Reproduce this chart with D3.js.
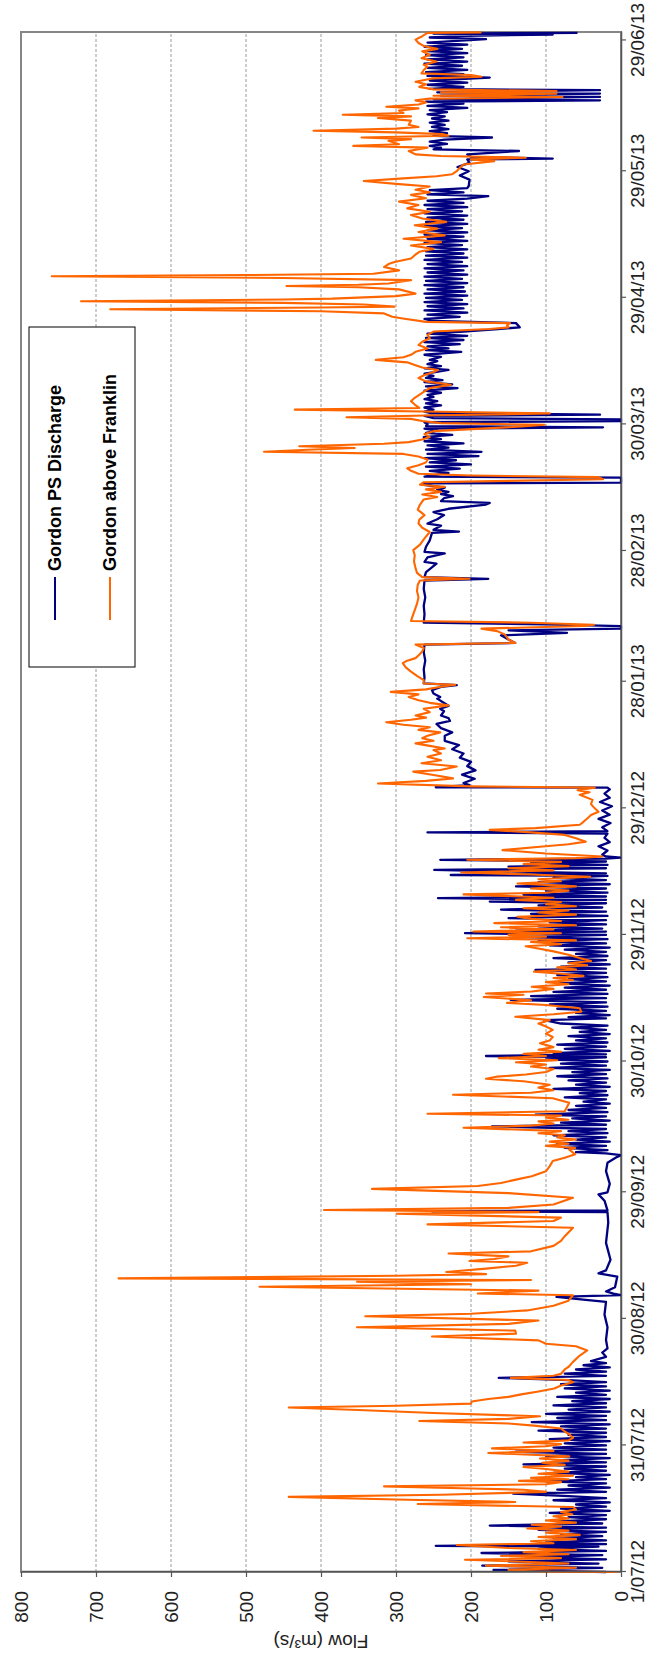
<!DOCTYPE html>
<html>
<head>
<meta charset="utf-8">
<script src="https://cdn.jsdelivr.net/npm/d3@7"></script>
<style>
  body { margin: 0; background: #fff; }
  svg { display: block; font-family: "Liberation Sans", Arial, sans-serif; }
</style>
</head>
<body>
<div id="chart"></div>
<script>
const seriesNames = ['Gordon PS Discharge', 'Gordon above Franklin'];
const seriesColors = ['#000080', '#ff6600'];
const flowTicks = [0, 100, 200, 300, 400, 500, 600, 700, 800];
const dateTicks = ['2012-07-01', '2012-07-31', '2012-08-30', '2012-09-29', '2012-10-30', '2012-11-29',
    '2012-12-29', '2013-01-28', '2013-02-28', '2013-03-30', '2013-04-29', '2013-05-29', '2013-06-29'];
const dateDomain = ['2012-07-01', '2013-07-01'];

// [days since 1/07/12, flow m3/s]
const psDischarge = [
[0,20],[0.5,170],[1,25],[1.5,185],[2,30],[2.5,150],[3,20],[3.5,120],[4,25],[4.5,186],[5,20],[5.5,110],[6,30],[6.2,247],[6.6,20],[7,100],[7.5,20],[8,90],[8.5,25],[9,80],[9.5,20],[10,110],[10.5,20],[11,175],[11.5,25],[12,85],[12.5,20],[13,70],[13.5,20],[14,95],[14.5,15],[15,80],[15.5,20],[16,60],[16.5,15],[17,90],[17.5,20],[18,70],[18.6,144],[19,20],[19.5,85],[20,15],[20.5,70],[21,20],[21.5,100],[22,20],[22.5,60],[23,15],[23.5,90],[24,20],[24.5,75],[25,20],[25.5,130],[26,20],[26.5,80],[27,15],[27.5,100],[28,20],[28.5,140],[29,20],[29.5,90],[30,20],[30.5,75],[31,15],[31.5,95],[32,20],[32.5,70],[33,20],[33.5,110],[34,20],[34.5,80],[35,15],[35.5,119],[36,20],[36.5,85],[37,20],[37.5,100],[38,15],[38.5,70],[39,20],[39.5,90],[40,20],[40.5,65],[41,15],[41.5,85],[42,20],[42.5,60],[43,15],[43.5,75],[44,20],[44.5,80],[45,20],[45.5,70],[46,163],[46.5,20],[47,75],[47.5,20],[48,60],[48.5,15],[49,50],[49.5,20],[50,40],[51,20],[52,25],[53,18],[55,20],[58,18],[61,22],[64,20],[64.5,47],[65.2,86],[65.6,0],[66,10],[66.5,20],[67.5,8],[70,5],[70.8,30],[71.5,20],[74,14],[78,20],[82.8,17],[85.3,18],[85.5,252],[85.7,18],[88,22],[89.5,30],[90,18],[92,15],[95,20],[97,18],[98.4,5],[98.8,0],[99.2,20],
[99.5,60],[100,18],[100.5,75],[101,20],[101.5,85],[102,15],[102.5,60],[103,20],[103.5,90],[104,18],[104.5,70],[105,20],[105.6,172],[106,20],[106.5,80],[107,15],[107.5,65],[108,20],[108.4,114],[109,18],[109.5,70],[110,20],[110.5,60],[111,15],[111.5,50],[112,20],[112.5,75],[113,18],[113.5,55],[114,20],[114.5,90],[115,15],[115.5,60],[116,20],[116.5,70],[117,18],[117.5,85],[118,20],[118.5,65],[119,15],[119.5,95],[120,20],[120.5,80],[121,18],[121.5,100],[122,20],[122.3,180],[122.7,20],[123,90],[123.5,15],[124,75],[124.5,20],[125,85],[125.5,18],[126,60],[126.5,20],[127,70],[127.5,15],[128,55],[128.5,20],[129,65],[129.5,18],[130,80],[130.8,102],[131.2,20],[131.5,70],[132,15],[132.5,60],[133,20],[133.5,85],[134,18],[134.5,95],[135,20],[135.6,147],[136,20],[136.5,120],[137,18],[137.5,90],[138,20],[138.5,75],[139,15],[139.5,85],[140,20],
[140.5,70],[141,18],[141.5,85],[142,20],[142.7,114],[143,20],[143.5,80],[144,15],[144.5,70],[145,20],[145.5,90],[146,18],[146.5,60],[147,20],[147.5,75],[148,15],[148.5,95],[149,20],[149.5,110],[150,18],[150.5,130],[151,20],[151.4,208],[151.8,20],[152,140],[152.5,25],[153,110],[153.5,20],[154,95],[154.5,20],[155,150],[155.5,18],[156,120],[156.5,20],[157,160],[157.5,25],[158,110],[158.5,20],[158.9,175],[159.3,20],[159.7,244],[160.1,20],[160.5,130],[161,18],[161.5,100],[162,20],[162.5,140],[163,15],[163.5,110],[164,20],[164.5,90],[165,18],[165.2,227],[165.6,20],[166,140],[166.4,249],[166.8,20],[167.2,150],[167.6,18],[168,120],[168.4,20],[168.8,241],[169.1,20],[169.3,0],[169.6,20],[170,25],[171,18],[172,30],[173,15],[174,22],[175,18],[175.3,258],[175.6,18],[176.5,25],[177.5,14],[178.5,30],[179.5,15],[180.5,25],[181.5,12],[182.5,28],[183.5,15],[184.5,22],[185.5,15],[185.9,18],[186,247],[186.5,202],[187,210],[188,195],[189,212],[190,194],[191,205],[192,200],[193,215],[194,210],[195,225],[196,216],
[197,235],[198.2,235],[199,225],[200,240],[201,246],[201.7,228],[202.4,230],[203,240],[204,236],[204.6,241],[205.3,230],[206.2,238],[207,245],[207.4,241],[208.2,250],[209,252],[209.8,240],[210.2,219],[210.6,263],[212,262],[214,263],[216,261],[218,263],[219.8,262],[220.2,141],[221,150],[222,160],[222.6,72],[223.2,150],[223.6,0],[224.2,0],[224.6,100],[225,263],[227,262],[229,263],[231,261],[233,263],[235,262],[235.4,177],[235.8,262],[237,260],[239,246],[239.4,262],[240.5,258],[241.4,235],[241.8,262],[243,260],[244.5,255],[246.3,252],[246.6,216],[247,250],[248,240],[248.5,258],[249.5,245],[250.5,236],[251.2,250],[252,230],[253,180],[253.4,175],[253.8,240],
[254.5,236],[255,224],[255.5,240],[256,230],[256.5,245],[257,235],[257.7,265],[258,263],[258.2,0],[259.4,0],[259.6,262],[260,250],[260.5,230],[261,255],[261.5,215],[262,260],[262.5,200],[263,255],[263.5,220],[264,262],[264.5,190],[265,258],[265.5,186],[266,260],[266.5,230],[267,258],[267.5,210],[268,262],[268.5,240],[269,263],[269.5,225],[270,260],[270.5,245],[271,262],[271.3,24],[271.6,260],[272,258],[272.5,262],[272.8,0],[273.2,0],[273.5,250],[274,262],[274.3,28],[274.7,255],[275,262],[275.5,250],[276,262],[276.5,240],[277,260],[277.5,245],[278,262],[278.5,250],[279,258],[279.5,240],[280,262],[280.6,218],[281,260],[281.5,225],[282,262],[282.5,238],[283,260],[283.5,250],[284,262],[284.9,230],[285.3,262],[285.8,240],[286.3,258],[287,245],[287.3,255],[288,240],[288.5,262],[289.2,213],[289.6,260],[290,230],[290.5,258],[291,215],[291.5,262],[292,210],[292.5,260],[293,205],[293.5,258],[294,210],[294.6,164],[295,135],[296,140],[296.5,250],[297,262],[297.5,215],[298,258],[298.5,205],[299,262],[299.5,210],[300,258],[300.5,205],[301,262],[301.5,212],[302,260],[302.5,205],[303,262],[303.5,208],[304,258],[304.5,210],[305,262],[305.5,205],[306,260],[306.5,212],[307,262],[307.5,205],[308,258],[308.5,210],[309,262],[309.5,205],[310,258],[310.5,212],[311,262],[311.5,205],[312,260],[312.5,210],
[313,260],[313.5,205],[314,258],[314.5,212],[315,262],[315.5,205],[316,258],[316.5,210],[317,262],[317.5,205],[318,258],[318.5,212],[319,262],[319.5,205],[320,260],[320.5,210],[321,258],[321.5,205],[322,262],[322.5,212],[323,258],[323.5,205],[324,262],[324.5,210],[325,258],[325.5,205],[326.1,177],[326.5,258],[327,210],[327.5,255],[328,205],[328.5,203],[330,202],[331,215],[332,203],[333,218],[334,202],[334.8,205],[335,91],[335.4,200],[336,205],[336.8,136],[337.2,250],[337.6,240],[338,255],[338.5,232],[339,255],[339.5,235],[340,172],[340.4,250],[341,232],[341.5,255],[342,230],[342.5,252],[343,235],[343.5,255],[344,230],[344.5,252],[345,235],[345.5,258],[346,232],[346.5,255],[347,205],[347.5,258],[348,210],[348.5,260],[348.8,28],[349.1,250],[349.6,28],[349.9,240],[350.4,28],[350.7,245],[351.2,28],[351.5,255],[352,210],[352.5,258],[353,205],[353.5,255],[354.2,175],[354.6,258],[355,210],[355.5,260],[356,205],[356.5,258],[357,212],[357.5,262],[358,205],[358.5,258],[359,210],[359.5,260],[360,205],[360.5,258],[361,212],[361.5,262],[362,205],[362.5,258],[363.3,180],[363.7,255],[364.1,205],[364.4,91],[364.6,250],[364.8,58]
];

const aboveFranklin = [
[0,5],[0.1,95],[0.5,150],[1,60],[1.5,180],[2,70],[2.5,140],[2.9,208],[3.3,80],[3.8,160],[4.2,70],[4.7,130],[5.2,60],[5.7,150],[6.4,219],[6.8,90],[7.3,120],[7.8,60],[8.3,110],[8.8,55],[9.3,100],[9.8,70],[10.3,125],[10.8,80],[11.2,119],[11.7,60],[12.2,100],[12.7,70],[13.2,90],[13.7,65],[14.2,80],[14.8,60],[15.4,64],[16.1,271],[16.6,141],[17.2,300],[17.8,443],[18.3,240],[19,100],[19.5,130],[19.8,199],[20.3,316],[20.8,100],[21.3,80],[21.6,136],[22,70],[22.3,120],[22.8,64],[23.3,110],[23.8,70],[24.4,100],[24.9,130],[25.4,75],[25.9,105],[26.4,70],[26.9,108],[27.4,69],[27.8,120],[28.2,177],[28.7,90],[29.3,172],[29.8,100],[30.3,80],[30.7,130],[31.2,70],[31.8,64],[32.5,68],[33.3,75],[34,80],[34.7,116],[35.2,150],[35.8,269],[36.3,150],[36.9,108],[37.7,250],[38.4,350],[39,443],[39.4,300],[39.9,200],[40.4,199],[41,177],[41.5,150],[42.1,133],[42.8,110],[43.5,89],[44.2,80],[45,64],
[45.5,70],[46,147],[46.5,90],[47,80],[48,75],[48.6,70],[49.8,64],[51.3,55],[52.5,45],[53.5,60],[54.1,100],[54.9,110],[55.8,252],[56.5,140],[57.2,141],[58,352],[58.8,150],[59.6,110],[60.6,341],[61.2,200],[62,125],[63.1,90],[64.3,70],[65.6,64],[66,191],[66.7,110],[67.6,482],[68.2,200],[68.8,352],[69.2,120],[69.6,670],[70.2,300],[70.6,180],[71.1,233],[71.9,180],[72.6,140],[73.3,125],[73.7,202],[74.2,169],[74.8,150],[75.5,230],[76,120],[77.3,90],[78.5,80],[79.6,75],[81.6,64],[82.4,258],[83.2,90],[84,80],[84.9,299],[85.3,110],[85.8,396],[86.3,150],[87.1,90],[88.7,64],[89.8,150],[90.8,332],[91.5,191],
[92.2,160],[93,140],[93.8,119],[95,100],[96.2,95],[97.4,91],[98.2,75],[99,61],[100.1,69],[100.5,61],[101,100],[101.5,70],[102,95],[102.5,60],[103,85],[103.5,75],[104,110],[104.5,80],[105.3,210],[105.8,120],[106.3,90],[106.8,110],[107.2,70],[107.7,100],[108.2,80],[108.6,258],[109.2,75],[110.2,72],[111.2,69],[112.3,91],[113.1,224],[113.6,120],[114.2,90],[114.8,110],[115.5,95],[116.3,130],[116.9,180],[117.4,166],[117.9,127],[118.5,100],[119.2,90],[119.8,120],[120.3,100],[120.8,140],[121.3,85],[121.8,163],[122.3,100],[122.8,130],[123.3,80],[123.8,110],[124.4,90],[125.3,108],[126,95],[126.8,91],[127.6,100],[128.5,91],[129.3,100],[130,110],[130.8,95],[131.6,141],[132.2,90],[132.8,53],[133.6,55],[134.4,100],[134.9,152],[135.5,120],[136.3,183],[136.8,130],[137.1,180],[137.6,119],[138.2,90],[138.7,119],[139.3,70],[139.8,100],[140.3,64],
[140.8,90],[141.3,50],[141.8,80],[142.3,116],[142.8,60],[143.3,85],[143.8,45],[144.3,70],[144.8,40],[145.5,55],[146.3,70],[147.1,90],[147.9,114],[148.3,127],[148.8,80],[149.3,120],[149.7,60],[150.2,205],[150.6,100],[151,150],[151.4,80],[151.8,197],[152.3,90],[152.8,160],[153.3,60],[153.8,169],[154.3,80],[154.8,120],[155.3,138],[155.8,60],[156.3,110],[156.8,70],[157.3,130],[157.8,60],[158.3,100],[158.8,80],[159.3,140],[159.8,90],[160.6,210],[161,100],[161.5,70],[162,120],[162.5,60],[163.2,138],[163.7,80],[164.2,110],[164.8,41],[165.3,120],[165.8,213],[166.3,90],[166.8,150],[167.3,70],[167.8,130],[168.3,80],[168.8,205],[169.2,60],[169.6,25],[170.3,100],[171.1,158],[171.9,108],[172.5,70],[173.1,47],[173.9,60],[174.7,75],[175.3,120],[175.9,175],[176.3,114],[177.1,55],[177.8,50],[178.6,45],[179.4,40],[180.2,30],[181,35],[182,40],[183,38],[184.2,55],[184.8,42],[185.3,58],[185.9,35],[186.2,200],[186.9,324],[187.5,260],[188.1,224],[188.9,250],[189.7,277],[190.1,241],[190.9,219],[191.7,266],[192.4,240],[193.2,258],[194,240],[194.8,250],[195.2,235],[195.8,255],[196.4,274],
[197,250],[197.6,265],[198.2,258],[199,241],[199.6,270],[200.2,255],[200.8,290],[201.4,313],[202,280],[202.5,260],[203,274],[203.8,255],[204.6,263],[205.4,230],[206,255],[206.6,270],[207.4,283],[208,270],[208.6,307],[209.2,260],[209.8,240],[210.3,221],[210.6,263],[211.4,263],[212.4,272],[213.4,280],[214.4,287],[215.4,291],[216,285],[216.6,274],[217.4,269],[218.2,265],[219,263],[219.8,274],[220.2,141],[221,150],[222.2,155],[223,165],[223.6,186],[224.2,50],[224.5,36],[225,120],[225.4,280],[226.5,278],[228,275],[229.5,272],[231,270],[232.5,272],[234,271],[235,268],[235.4,202],[235.8,265],[236.8,272],[238,274],[239.5,276],[241,275],[242.2,277],[243.5,268],[245,262],[246.5,255],[247.5,265],[248.5,270],[249.4,269],[250.5,262],[251.8,271],[253,268],[254.2,263],
[254.8,245],[255.4,265],[256,240],[256.6,260],[257.2,235],[257.7,268],[258.3,263],[258.6,150],[259,24],[259.5,30],[259.9,200],[260.3,270],[261,280],[261.6,285],[262.3,270],[263,260],[263.7,258],[264.4,270],[265,290],[265.5,476],[266,418],[266.4,355],[266.8,429],[267.4,316],[267.8,283],[268.4,265],[269,255],[269.7,262],[270.4,250],[271,186],[271.5,132],[271.9,102],[272.3,240],[272.8,265],[273.3,280],[273.7,366],[274.1,260],[274.6,95],[275,240],[275.5,435],[275.9,269],[276.7,275],[277.5,280],[278.3,275],[279,269],[279.8,262],[280.6,255],[281.4,227],[282.2,260],[283,270],[283.7,262],[284.4,250],[284.9,244],[285.5,265],[286.1,275],[286.7,285],[287.3,327],[287.9,290],[288.5,280],[289.2,274],[290,258],[290.8,270],[291.6,265],[292.4,255],[293.2,258],[294,250],[294.6,175],[295,150],[295.5,152],[296,148],[296.3,260],[297.1,291],[297.5,305],[298.3,316],[298.8,400],[299.3,681],[299.7,400],[299.9,302],[300.4,343],[300.8,450],[301.2,720],[301.6,450],[301.8,385],[302.4,300],[303,274],[304,296],[304.5,350],[304.8,446],[305.1,350],[305.4,310],[306.2,280],[306.7,450],[307.1,759],[307.4,500],[307.7,330],[308.5,296],[309.3,316],[310,310],[310.5,302],[311.3,280],[312.1,275],[312.9,269],
[313.6,250],[314.4,280],[315.2,240],[316,290],[316.8,235],[317.6,270],[318.4,245],[319.2,275],[320,233],[320.8,265],[321.6,280],[322.4,255],[323.2,285],[324,270],[324.8,296],[325.6,260],[326.4,280],[327,255],[327.6,274],[328.4,255],[329,300],[329.7,343],[330.3,290],[330.8,246],[331.3,225],[332,219],[332.8,215],[333.6,210],[334.4,169],[334.8,200],[335.2,127],[335.6,240],[336,274],[336.8,283],[337.6,258],[338,357],[338.4,296],[339.2,310],[339.6,280],[340,346],[340.4,230],[340.8,238],[341.2,300],[341.6,410],[342.1,300],[342.5,270],[343,283],[344,280],[344.6,324],[345,280],[345.4,371],[345.8,290],[346.4,296],[346.9,270],[347.3,313],[347.8,270],[348.3,260],[348.8,274],[349.2,255],[349.6,78],[349.9,250],[350.4,86],[350.7,240],[351,86],[351.4,250],[352,269],[352.6,260],[353.2,274],[354,252],[354.4,186],[354.8,200],[355.2,266],[356,263],[356.8,258],[357.2,263],[358,246],[358.8,266],[359.6,255],[360.4,265],[361,245],[361.6,262],[362.4,270],[363.2,274],[364,265],[364.8,258],[364.9,186]
];

const width = 650;
const height = 1657;
// the chart is drawn landscape (W x H) and then turned a quarter turn anticlockwise
const W = height;
const H = width;
const margin = { top: 21, right: 32, bottom: 29, left: 85 };
const plotW = W - margin.left - margin.right;
const plotH = H - margin.top - margin.bottom;

const parseDate = d3.utcParse('%Y-%m-%d');
const start = parseDate(dateDomain[0]);
const toDate = day => new Date(start.getTime() + day * 864e5);

const x = d3.scaleUtc()
    .domain(dateDomain.map(parseDate))
    .range([margin.left, margin.left + plotW]);
const y = d3.scaleLinear()
    .domain([0, 800])
    .range([margin.top + plotH, margin.top]);

const svg = d3.select('#chart')
    .append('svg')
    .attr('width', width)
    .attr('height', height);

const chart = svg.append('g')
    .attr('transform', `translate(0,${height}) rotate(-90)`);

// grid
chart.append('g')
    .classed('grid', true)
    .selectAll('line')
    .data(flowTicks.filter(t => t > 0 && t < 800))
    .enter()
    .append('line')
    .attr('x1', margin.left)
    .attr('x2', margin.left + plotW)
    .attr('y1', d => y(d))
    .attr('y2', d => y(d))
    .style('stroke', '#9a9a9a')
    .style('stroke-width', 1)
    .style('stroke-dasharray', '3,2');

chart.append('rect')
    .attr('x', margin.left)
    .attr('y', margin.top)
    .attr('width', plotW)
    .attr('height', plotH)
    .style('fill', 'none')
    .style('stroke', '#868686')
    .style('stroke-width', 2);

const line = d3.line()
    .x(d => x(toDate(d[0])))
    .y(d => y(d[1]));

[psDischarge, aboveFranklin].forEach((series, i) => {
    chart.append('path')
        .datum(series)
        .attr('d', line)
        .style('fill', 'none')
        .style('stroke', seriesColors[i])
        .style('stroke-width', i === 0 ? 2.3 : 2.1)
        .style('stroke-linejoin', 'round');
});

// axes
const xAxis = d3.axisBottom(x)
    .tickValues(dateTicks.map(parseDate))
    .tickFormat(d3.utcFormat('%-d/%m/%y'))
    .tickSize(5)
    .tickSizeOuter(0)
    .tickPadding(5);
const yAxis = d3.axisLeft(y)
    .tickValues(flowTicks)
    .tickSize(5)
    .tickSizeOuter(0)
    .tickPadding(14);

const xAxisGroup = chart.append('g')
    .attr('transform', `translate(0,${margin.top + plotH})`)
    .call(xAxis);
const yAxisGroup = chart.append('g')
    .attr('transform', `translate(${margin.left},0)`)
    .call(yAxis);

[xAxisGroup, yAxisGroup].forEach(g => {
    g.attr('font-family', null).attr('font-size', null);
    g.select('.domain').style('stroke', '#555').style('stroke-width', 1.5);
    g.selectAll('.tick line').style('stroke', '#555').style('stroke-width', 1.2);
    g.selectAll('.tick text').style('font-size', '19px').style('fill', '#222');
});

chart.append('text')
    .attr('transform', `translate(22,${margin.top + plotH / 2}) rotate(-90)`)
    .style('text-anchor', 'middle')
    .style('font-size', '19px')
    .style('fill', '#222')
    .text('Flow (m³/s)');

// legend
const legend = chart.append('g')
    .classed('legend', true)
    .attr('transform', 'translate(990,29)');
legend.append('rect')
    .attr('width', 340)
    .attr('height', 106)
    .style('fill', '#fff')
    .style('stroke', '#000')
    .style('stroke-width', 1);
const entries = legend.selectAll('.entry')
    .data(seriesNames)
    .enter()
    .append('g')
    .classed('entry', true)
    .attr('transform', (d, i) => `translate(0,${26 + i * 55})`);
entries.append('line')
    .attr('x1', 47)
    .attr('x2', 90)
    .style('stroke', (d, i) => seriesColors[i])
    .style('stroke-width', 2);
entries.append('text')
    .attr('x', 96)
    .attr('dy', '0.36em')
    .style('font-size', '18px')
    .style('font-weight', 'bold')
    .style('fill', '#000')
    .text(d => d);
</script>
</body>
</html>
